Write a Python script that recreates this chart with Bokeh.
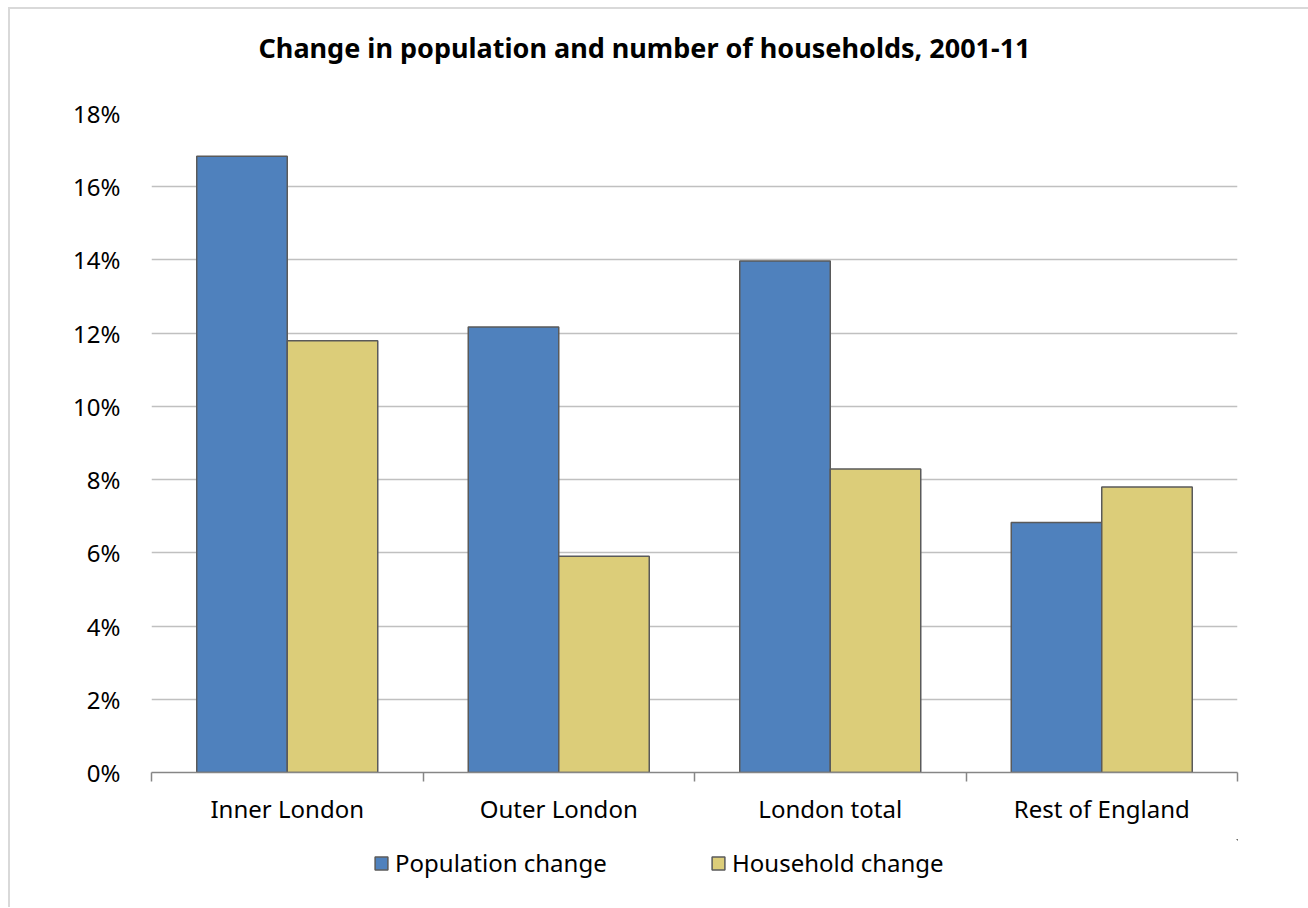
from bokeh.plotting import figure
from bokeh.layouts import column
from bokeh.models import (ColumnDataSource, FixedTicker, Range1d, Legend, LegendItem,
                          PrintfTickFormatter, Title)
from bokeh.embed import file_html
from bokeh.resources import INLINE

categories = ["Inner London", "Outer London", "London total", "Rest of England"]
population_change = [16.83, 12.17, 13.97, 6.83]
household_change = [11.79, 5.91, 8.29, 7.80]
y_ticks = [0, 2, 4, 6, 8, 10, 12, 14, 16, 18]
series_names = ["Population change", "Household change"]
colors = ["#4f81bd", "#dccd79"]

FONT = "Noto Sans"
W = 1298

idx = list(range(len(categories)))
src_pop = ColumnDataSource(dict(x=[i + 1 / 3 for i in idx], top=population_change))
src_hh = ColumnDataSource(dict(x=[i + 2 / 3 for i in idx], top=household_change))

p = figure(width=W, height=830, output_backend="svg", toolbar_location=None,
           x_range=Range1d(0, len(categories)), y_range=Range1d(0, 18),
           min_border_left=141, min_border_right=71, min_border_top=104, min_border_bottom=67)
p.outline_line_color = None
p.background_fill_color = "white"
p.border_fill_color = "white"

# spacer between frame and title
p.add_layout(Title(text=" ", text_font_size="1px", standoff=45), "above")
p.title.text = "Change in population and number of households, 2001-11"
p.title.text_font = FONT
p.title.text_font_size = "27px"
p.title.text_font_style = "bold"
p.title.text_color = "black"
p.title.align = "left"
p.title.offset = 107
p.title.standoff = 0

p.vbar(x="x", top="top", width=1 / 3, source=src_pop, fill_color=colors[0],
       line_color="#5a5a5a", line_width=1.5)
p.vbar(x="x", top="top", width=1 / 3, source=src_hh, fill_color=colors[1],
       line_color="#5a5a5a", line_width=1.5)

# x axis: category labels centred, ticks at category boundaries
xa = p.xaxis[0]
xa.ticker = FixedTicker(ticks=[i + 0.5 for i in idx], minor_ticks=list(range(len(categories) + 1)))
xa.major_label_overrides = {i + 0.5: c for i, c in zip(idx, categories)}
xa.major_tick_line_color = None
xa.minor_tick_out = 9
xa.minor_tick_in = 0
xa.minor_tick_line_color = "#868686"
xa.minor_tick_line_width = 1.5
xa.axis_line_color = "#868686"
xa.axis_line_width = 1.5
xa.major_label_text_font = FONT
xa.major_label_text_font_size = "24px"
xa.major_label_text_color = "black"
xa.major_label_standoff = 10
p.xgrid.grid_line_color = None

# y axis
ya = p.yaxis[0]
ya.ticker = FixedTicker(ticks=y_ticks)
ya.formatter = PrintfTickFormatter(format="%d%%")
ya.axis_line_color = None
ya.major_tick_line_color = None
ya.minor_tick_line_color = None
ya.major_label_text_font = FONT
ya.major_label_text_font_size = "24px"
ya.major_label_text_color = "black"
ya.major_label_standoff = 25
p.ygrid.grid_line_color = "#c0c0c0"
p.ygrid.grid_line_width = 1.5
p.ygrid.ticker = FixedTicker(ticks=y_ticks)

# legend strip below the chart (its renderers are kept far out of view)
lg = figure(width=W, height=68, output_backend="svg", toolbar_location=None,
            x_axis_type=None, y_axis_type=None, min_border=0,
            x_range=Range1d(-1000, -999), y_range=Range1d(-1000, -999))
lg.outline_line_color = None
lg.background_fill_color = "white"
lg.border_fill_color = "white"
lg.grid.visible = False
e1 = lg.vbar(x="x", top="top", width=1 / 3, source=src_pop, fill_color=colors[0],
             line_color="#5a5a5a", line_width=1.5)
e2 = lg.vbar(x="x", top="top", width=1 / 3, source=src_hh, fill_color=colors[1],
             line_color="#5a5a5a", line_width=1.5)
legend = Legend(items=[LegendItem(label=series_names[0], renderers=[e1]),
                       LegendItem(label=series_names[1], renderers=[e2])],
                orientation="horizontal", location=(222, 28),
                glyph_width=16, glyph_height=16, label_standoff=6, spacing=32,
                label_width=283, padding=0, margin=0,
                border_line_color=None, background_fill_alpha=0,
                label_text_font=FONT, label_text_font_size="24px", label_text_color="black")
lg.add_layout(legend, "center")

layout = column(p, lg, spacing=0)
layout.styles = {"border-left": "2px solid #d9d9d9", "border-top": "2px solid #d9d9d9",
                 "margin-left": "8px", "margin-top": "7px"}

open("out.html", "w").write(file_html(layout, INLINE))
